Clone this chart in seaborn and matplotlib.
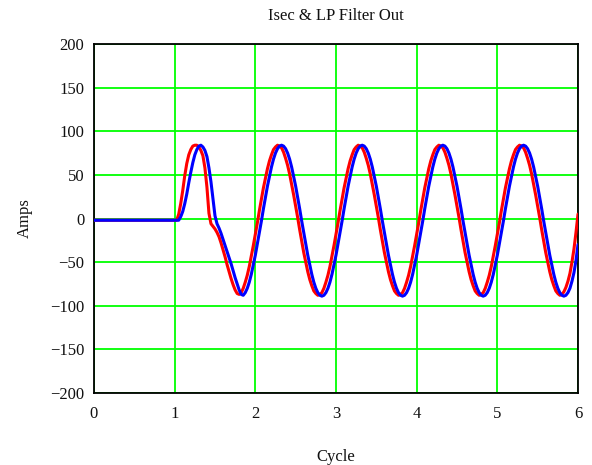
import numpy as np
import pandas as pd
import matplotlib
matplotlib.use("Agg")
import matplotlib.pyplot as plt
import seaborn as sns

# ---- data ----
cycle = [0.0,
         1.000, 1.025, 1.050, 1.075, 1.100, 1.125, 1.150, 1.175, 1.200, 1.225,
         1.250, 1.275, 1.300, 1.325, 1.350, 1.375, 1.400, 1.425, 1.450, 1.475,
         1.500, 1.525, 1.550, 1.575, 1.600, 1.625, 1.650, 1.675, 1.700, 1.725,
         1.750, 1.775, 1.800, 1.825, 1.850, 1.875, 1.900, 1.925, 1.950, 1.975,
         2.000, 2.025, 2.050, 2.075, 2.100, 2.125, 2.150, 2.175, 2.200, 2.225,
         2.250, 2.275, 2.300, 2.325, 2.350, 2.375, 2.400, 2.425, 2.450, 2.475,
         2.500, 2.525, 2.550, 2.575, 2.600, 2.625, 2.650, 2.675, 2.700, 2.725,
         2.750, 2.775, 2.800, 2.825, 2.850, 2.875, 2.900, 2.925, 2.950, 2.975,
         3.000, 3.025, 3.050, 3.075, 3.100, 3.125, 3.150, 3.175, 3.200, 3.225,
         3.250, 3.275, 3.300, 3.325, 3.350, 3.375, 3.400, 3.425, 3.450, 3.475,
         3.500, 3.525, 3.550, 3.575, 3.600, 3.625, 3.650, 3.675, 3.700, 3.725,
         3.750, 3.775, 3.800, 3.825, 3.850, 3.875, 3.900, 3.925, 3.950, 3.975,
         4.000, 4.025, 4.050, 4.075, 4.100, 4.125, 4.150, 4.175, 4.200, 4.225,
         4.250, 4.275, 4.300, 4.325, 4.350, 4.375, 4.400, 4.425, 4.450, 4.475,
         4.500, 4.525, 4.550, 4.575, 4.600, 4.625, 4.650, 4.675, 4.700, 4.725,
         4.750, 4.775, 4.800, 4.825, 4.850, 4.875, 4.900, 4.925, 4.950, 4.975,
         5.000, 5.025, 5.050, 5.075, 5.100, 5.125, 5.150, 5.175, 5.200, 5.225,
         5.250, 5.275, 5.300, 5.325, 5.350, 5.375, 5.400, 5.425, 5.450, 5.475,
         5.500, 5.525, 5.550, 5.575, 5.600, 5.625, 5.650, 5.675, 5.700, 5.725,
         5.750, 5.775, 5.800, 5.825, 5.850, 5.875, 5.900, 5.925, 5.950, 5.975,
         6.000]

isec = [-2,
        -2, -2, 5, 17, 32, 49, 63, 73, 79, 83,
        84, 84, 82, 78, 72, 58, 36, 6, -6, -9,
        -12, -16, -21, -28, -36, -44, -53, -61, -69, -76,
        -82, -86, -87, -85, -80, -73, -65, -55, -43, -31,
        -18, -5, 9, 22, 35, 46, 57, 66, 73, 79,
        82, 84, 83, 81, 76, 69, 61, 51, 39, 27,
        14, 1, -13, -26, -39, -50, -61, -70, -77, -83,
        -86, -88, -87, -85, -80, -73, -65, -55, -43, -31,
        -18, -5, 9, 22, 35, 46, 57, 66, 73, 79,
        82, 84, 83, 81, 76, 69, 61, 51, 39, 27,
        14, 1, -13, -26, -39, -50, -61, -70, -77, -83,
        -86, -88, -87, -85, -80, -73, -65, -55, -43, -31,
        -18, -5, 9, 22, 35, 46, 57, 66, 73, 79,
        82, 84, 83, 81, 76, 69, 61, 51, 39, 27,
        14, 1, -13, -26, -39, -50, -61, -70, -77, -83,
        -86, -88, -87, -85, -80, -73, -65, -55, -43, -31,
        -18, -5, 9, 22, 35, 46, 57, 66, 73, 79,
        82, 84, 83, 81, 76, 69, 61, 51, 39, 27,
        14, 1, -13, -26, -39, -50, -61, -70, -77, -83,
        -86, -88, -87, -84, -79, -72, -63, -50, -35, -16,
        5]

lp_out = [-2,
          -2, -2, -2, 2, 8, 17, 28, 41, 53, 64,
          73, 79, 83, 84, 82, 78, 71, 58, 42, 22,
          3, -6, -11, -17, -24, -31, -38, -45, -52, -60,
          -68, -75, -82, -87, -88, -85, -80, -73, -64, -53,
          -42, -29, -16, -3, 11, 24, 37, 48, 59, 68,
          75, 80, 83, 84, 83, 80, 75, 68, 59, 48,
          37, 24, 11, -3, -16, -29, -42, -53, -64, -73,
          -80, -85, -88, -89, -88, -85, -80, -73, -64, -53,
          -42, -29, -16, -3, 11, 24, 37, 48, 59, 68,
          75, 80, 83, 84, 83, 80, 75, 68, 59, 48,
          37, 24, 11, -3, -16, -29, -42, -53, -64, -73,
          -80, -85, -88, -89, -88, -85, -80, -73, -64, -53,
          -42, -29, -16, -3, 11, 24, 37, 48, 59, 68,
          75, 80, 83, 84, 83, 80, 75, 68, 59, 48,
          37, 24, 11, -3, -16, -29, -42, -53, -64, -73,
          -80, -85, -88, -89, -88, -85, -80, -73, -64, -53,
          -42, -29, -16, -3, 11, 24, 37, 48, 59, 68,
          75, 80, 83, 84, 83, 80, 75, 68, 59, 48,
          37, 24, 11, -3, -16, -29, -42, -53, -64, -73,
          -80, -85, -88, -89, -88, -85, -80, -72, -62, -48,
          -30]

series_names = ["Isec", "LP Filter Out"]
x_ticks = [0, 1, 2, 3, 4, 5, 6]
y_ticks = [-200, -150, -100, -50, 0, 50, 100, 150, 200]

df = pd.DataFrame({
    "Cycle": cycle + cycle,
    "Amps": isec + lp_out,
    "series": [series_names[0]] * len(cycle) + [series_names[1]] * len(cycle),
})

sns.set_theme(style="white")
plt.rcParams["font.family"] = ["Liberation Serif", "DejaVu Serif"]
plt.rcParams["axes.unicode_minus"] = True

fig = plt.figure(figsize=(5.92, 4.65), dpi=100)
ax = fig.add_axes([94 / 592, 1 - 393 / 465, (578 - 94) / 592, (393 - 44) / 465])

sns.lineplot(data=df, x="Cycle", y="Amps", hue="series",
             palette={"Isec": "#ff0000", "LP Filter Out": "#0000ff"},
             estimator=None, sort=False, linewidth=2.2, legend=False, ax=ax,
             zorder=3)

ax.set_xlim(0, 6)
ax.set_ylim(-200, 200)
ax.set_xticks(x_ticks)
ax.set_yticks(y_ticks)
ax.set_xticklabels([str(t) for t in x_ticks])
ax.set_yticklabels([str(t).replace("-", "\u2212") for t in y_ticks])
ax.grid(True, color="#00ff00", linewidth=1.3, zorder=1)
ax.set_axisbelow(True)
ax.tick_params(axis="both", length=0, labelsize=12, colors="#111111")
ax.tick_params(axis="x", pad=9)
ax.tick_params(axis="y", pad=7)
for s in ax.spines.values():
    s.set_color("black")
    s.set_linewidth(1.3)
    s.set_visible(True)

ax.set_title("Isec & LP Filter Out", fontsize=12, pad=17, color="#111111")
ax.set_xlabel("Cycle", fontsize=12, labelpad=20, color="#111111")
ax.set_ylabel("Amps", fontsize=12, labelpad=12, color="#111111")

fig.savefig("out.png", dpi=100, facecolor="white")
